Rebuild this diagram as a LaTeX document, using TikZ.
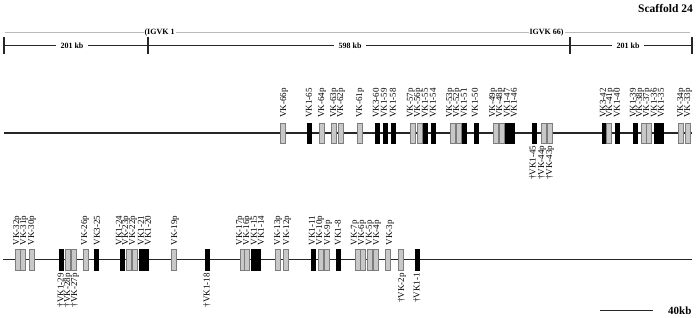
\documentclass[tikz,border=0pt]{standalone}
\usepackage{fontspec}
\setmainfont{Liberation Serif}
\definecolor{boxgray}{RGB}{200,200,200}
\definecolor{boxedge}{RGB}{125,125,125}
\definecolor{thingray}{RGB}{185,185,185}
\begin{document}
\begin{tikzpicture}[x=1pt,y=1pt,
  gbox/.style={draw=boxedge, line width=0.4pt, fill=boxgray, minimum width=5pt, minimum height=20.5pt, inner sep=0pt},
  kbox/.style={draw=black, line width=0.4pt, fill=black, minimum width=4.5pt, minimum height=20.5pt, inner sep=0pt},
  lab/.style={font=\fontsize{9}{9}\selectfont, inner sep=0pt, rotate=90},
  geneline/.style={line width=1.6pt, black!85},
  scaleline/.style={line width=1.8pt, black!85},
  tickmark/.style={line width=1.8pt, black!85},
  kbtext/.style={font=\fontsize{8}{8}\selectfont\bfseries, fill=white, inner ysep=1.5pt, inner xsep=4.5pt},
  igtext/.style={font=\fontsize{8}{8}\selectfont\bfseries, fill=white, inner sep=1pt},
  thinline/.style={line width=0.6pt, thingray}
]
\useasboundingbox (0,0) rectangle (699,-318);

% title
\node[anchor=east, font=\fontsize{11.5}{11.5}\selectfont\bfseries, inner sep=0pt] (title) at (693,-9) {Scaffold 24};

% top scale
\coordinate (g0) at (5,-32.3);
\coordinate (g3) at (690,-32.3);
\draw[thinline] (g0) -- (g3);
\node[igtext] (igvk1) at (159.5,-32.3) {(IGVK 1};
\node[igtext] (igvk66) at (546.5,-32.3) {IGVK 66)};

\coordinate (s0) at (4,-45.5);
\coordinate (s1) at (148,-45.5);
\coordinate (s2) at (570,-45.5);
\coordinate (s3) at (692,-45.5);
\draw[scaleline] (s0) -- (s3);
\foreach \s in {s0,s1,s2,s3} \draw[tickmark] ([yshift=8.5pt]\s) -- ([yshift=-8.5pt]\s);
\node[kbtext] (kb1) at (72,-45.5) {201 kb};
\node[kbtext] (kb2) at (350,-45.5) {598 kb};
\node[kbtext] (kb3) at (628,-45.5) {201 kb};

% top gene row
\coordinate (ta) at (4,-133);
\coordinate (tz) at (692,-133);
\draw[geneline] (ta) -- (tz);
\foreach \x/\lx/\l/\c [count=\i] in {
 283/284/VK-66p/gbox, 309/309/VK1-65/kbox, 322/322/VK-64p/gbox, 334/334/VK-63p/gbox,
 341/341/VK-62p/gbox, 360/360/VK-61p/gbox, 377/376/VK3-60/kbox, 385/384/VK1-59/kbox,
 393/393/VK1-58/kbox, 413/411/VK-57p/gbox, 420/418/VK-56p/gbox, 425/425/VK1-55/kbox,
 433/433/VK1-54/kbox, 453/450/VK-53p/gbox, 459/457/VK-52p/gbox, 464/464/VK1-51/kbox,
 476/475/VK1-50/kbox, 496/493/VK-49p/gbox, 502/500/VK-48p/gbox, 507/507/VK1-47/kbox,
 512/514/VK1-46/kbox, 604/603/VK3-42/kbox, 609/610/VK-41p/gbox, 617/617/VK1-40/kbox,
 635/633/VK1-39/kbox, 644/640/VK-38p/gbox, 649/647/VK-37p/gbox, 656/654/VK1-36/kbox,
 661/661/VK1-35/kbox, 681/681/VK-34p/gbox, 688/688/VK-33p/gbox}{
  \node[\c] (tbox\i) at (\x,-133) {};
  \node[lab, anchor=west] (tlab\i) at (\lx,-118) {\l};
}
\foreach \x/\lx/\l/\c [count=\i] in {
 534/533/VK1-45/kbox, 544/542/VK-44p/gbox, 550/550/VK-43p/gbox}{
  \node[\c] (tboxb\i) at (\x,-133) {};
  \node[lab, anchor=east] (tlabb\i) at (\lx,-145.5) {\textdagger\l};
}

% bottom gene row
\coordinate (ba) at (3,-259.5);
\coordinate (bz) at (692,-259.5);
\draw[geneline] (ba) -- (bz);
\foreach \x/\lx/\l/\c [count=\i] in {
 18/17/VK-32p/gbox, 23/24/VK-31p/gbox, 32/32/VK-30p/gbox, 86/85/VK-26p/gbox,
 96/97/VK3-25/kbox, 122/119/VK1-24/kbox, 129/126/VK-23p/gbox, 135/133/VK-22p/gbox,
 141/141/VK1-21/kbox, 146/148/VK1-20/kbox, 174/175/VK-19p/gbox, 243/240/VK-17p/gbox,
 247/247/VK-16p/gbox, 253/254/VK1-15/kbox, 258/261/VK1-14/kbox, 278/278/VK-13p/gbox,
 286/287/VK-12p/gbox, 313/312/VK1-11/kbox, 321/320/VK-10p/gbox, 327/328/VK-9p/gbox,
 338/338/VK1-8/kbox, 358/355/VK-7p/gbox, 363/362/VK-6p/gbox, 370/370/VK-5p/gbox,
 376/377/VK-4p/gbox, 388/390/VK-3p/gbox}{
  \node[\c] (bbox\i) at (\x,-259.5) {};
  \node[lab, anchor=west] (blab\i) at (\lx,-245.5) {\l};
}
\foreach \x/\lx/\l/\c [count=\i] in {
 61/61/VK1-29/kbox, 68/68/VK-28p/gbox, 74/75/VK-27p/gbox, 207/207/VK1-18/kbox,
 401/402/VK-2p/gbox, 417/417/VK1-1/kbox}{
  \node[\c] (bboxb\i) at (\x,-259.5) {};
  \node[lab, anchor=east] (blabb\i) at (\lx,-273) {\textdagger\l};
}

% scale bar
\coordinate (sc0) at (600,-310.7);
\coordinate (sc1) at (653,-310.7);
\draw[line width=1.3pt, black!85] (sc0) -- (sc1);
\node[anchor=west, font=\fontsize{11}{11}\selectfont\bfseries, inner sep=0pt] (forty) at (668,-310.5) {40kb};
\end{tikzpicture}
\end{document}
